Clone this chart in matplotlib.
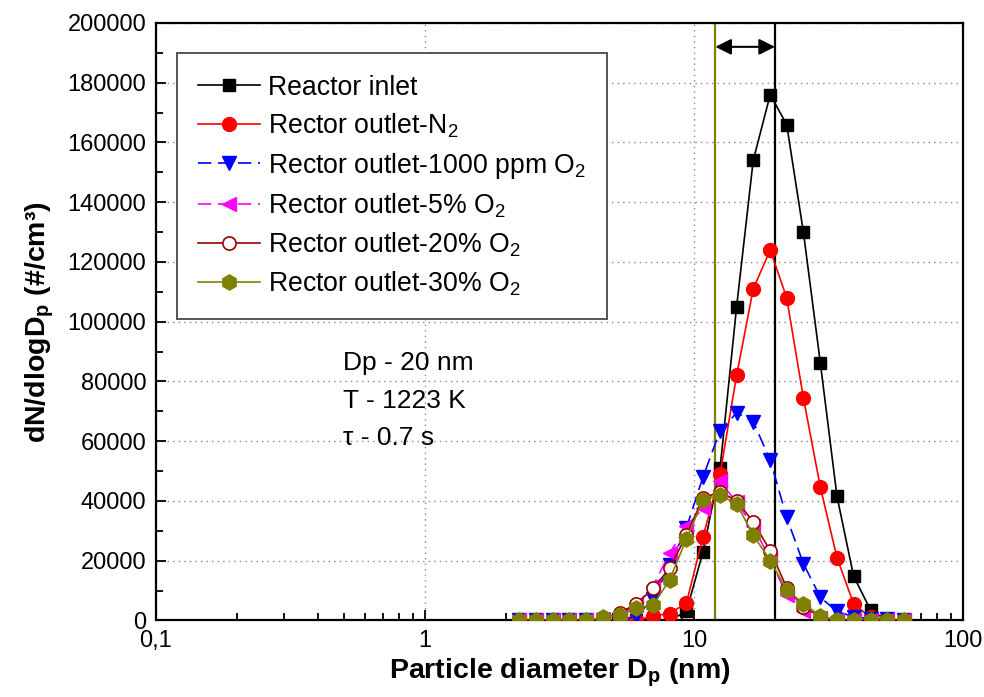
import matplotlib
matplotlib.use("Agg")
import matplotlib.pyplot as plt
from matplotlib.ticker import FixedLocator, FixedFormatter, LogLocator, NullFormatter

plt.rcParams['font.family'] = ['Liberation Sans', 'DejaVu Sans']
plt.rcParams['mathtext.fontset'] = 'custom'
plt.rcParams['mathtext.rm'] = 'Liberation Sans'
plt.rcParams['mathtext.it'] = 'Liberation Sans:italic'
plt.rcParams['mathtext.bf'] = 'Liberation Sans:bold'

# particle diameters (nm), SMPS channels
dp = [2.24, 2.58, 2.98, 3.44, 3.97, 4.58, 5.29, 6.10, 7.04, 8.12, 9.37, 10.8,
      12.5, 14.4, 16.6, 19.2, 22.1, 25.5, 29.5, 34.0, 39.2, 45.3, 52.2, 60.3]

inlet = [0, 0, 0, 0, 0, 0, 0, 0, 0, 0, 3000, 23000,
         51000, 105000, 154000, 176000, 166000, 130000, 86000, 41500, 14800, 3500, 0, 0]
out_n2 = [0, 0, 0, 0, 0, 0, 0, 0, 1500, 2300, 5800, 28000,
          49000, 82000, 111000, 124000, 108000, 74500, 44500, 21000, 5500, 1000, 0, 0]
out_1000ppm = [0, 0, 0, 0, 0, 0, 0, 1500, 7000, 18500, 31000, 48000,
               63500, 69500, 66500, 53700, 34500, 19000, 7700, 3000, 1200, 600, 400, 300]
out_5pct = [0, 0, 0, 0, 0, 500, 1800, 5000, 11500, 22500, 31500, 37500,
            46500, 39500, 31500, 20500, 8500, 3000, 800, 300, 200, 200, 200, 200]
out_20pct = [0, 0, 0, 0, 0, 600, 2500, 5500, 10700, 17500, 28500, 41000,
             43000, 40000, 33000, 23300, 11000, 4500, 1200, 200, 200, 200, 200, 200]
out_30pct = [0, 0, 0, 0, 0, 1000, 1800, 4000, 5100, 13600, 27300, 40300,
             42000, 39000, 28600, 20000, 10300, 5600, 1500, 0, 0, 0, 0, 0]

labels = ['Reactor inlet', r'Rector outlet-N$_2$', r'Rector outlet-1000 ppm O$_2$',
          r'Rector outlet-5% O$_2$', r'Rector outlet-20% O$_2$', r'Rector outlet-30% O$_2$']
notes = ['Dp - 20 nm', 'T - 1223 K', 'τ - 0.7 s']

olive = '#808000'
wine = '#990000'

fig = plt.figure(figsize=(9.84, 6.97), dpi=100)
ax = fig.add_axes([0.1585, 0.1099, 0.8202, 0.8572])

ax.axvline(12, color=olive, lw=1.6, zorder=1)
ax.axvline(20, color='black', lw=1.6, zorder=1)
ax.annotate('', xy=(12, 192000), xytext=(20, 192000),
            arrowprops=dict(arrowstyle='<|-|>', color='black', lw=1.5,
                            mutation_scale=24, shrinkA=0, shrinkB=0))

ax.plot(dp, inlet, '-s', color='black', lw=1.2, ms=9, label=labels[0], zorder=3)
ax.plot(dp, out_n2, '-o', color='red', lw=1.2, ms=10, label=labels[1], zorder=3)
ax.plot(dp, out_1000ppm, 'v', ls=(0, (8, 4)), color='blue', lw=1.2, ms=10.5,
        label=labels[2], zorder=3)
ax.plot(dp, out_5pct, '<', ls=(0, (8, 4)), color='magenta', lw=1.2, ms=10.5,
        label=labels[3], zorder=3)
ax.plot(dp, out_20pct, '-o', color=wine, mfc='white', mec=wine, mew=1.2, lw=1.2,
        ms=9.5, label=labels[4], zorder=3)
ax.plot(dp, out_30pct, '-h', color=olive, lw=1.2, ms=11, label=labels[5], zorder=3)

ax.set_xscale('log')
ax.set_xlim(0.1, 100)
ax.set_ylim(0, 200000)

ax.xaxis.set_major_locator(FixedLocator([0.1, 1, 10, 100]))
ax.xaxis.set_major_formatter(FixedFormatter(['0,1', '1', '10', '100']))
ax.xaxis.set_minor_locator(LogLocator(base=10, subs=range(2, 10)))
ax.xaxis.set_minor_formatter(NullFormatter())
ax.set_yticks(range(0, 200001, 20000))
ax.set_yticks(range(10000, 200000, 20000), minor=True)
ax.set_yticklabels([str(v) for v in range(0, 200001, 20000)])

ax.tick_params(which='both', direction='in', top=False, right=False,
               labelsize=17, width=1.3)
ax.tick_params(which='major', length=7, pad=7)
ax.tick_params(which='minor', length=5)
for s in ax.spines.values():
    s.set_linewidth(1.6)

ax.grid(True, which='major', color='#888888', ls=(0, (1, 3)), lw=1.0)
ax.set_axisbelow(True)

ax.set_xlabel(r'Particle diameter D$_\mathbf{p}$ (nm)', fontsize=20.5, fontweight='bold',
              labelpad=3)
ax.set_ylabel(r'dN/dlogD$_\mathbf{p}$ (#/cm³)', fontsize=20.5, fontweight='bold',
              labelpad=8)

for i, t in enumerate(notes):
    ax.text(0.2317, 0.4308 - 0.0628 * i, t, transform=ax.transAxes,
            fontsize=19, va='center', ha='left')

leg = ax.legend(loc='upper left', bbox_to_anchor=(0.026, 0.949), borderaxespad=0,
                fontsize=19.2, fancybox=False, edgecolor='#555555',
                handlelength=2.3, handletextpad=0.3, labelspacing=0.4,
                borderpad=0.8, framealpha=1)
leg.get_frame().set_linewidth(1.4)

fig.savefig('out.png', dpi=100)
